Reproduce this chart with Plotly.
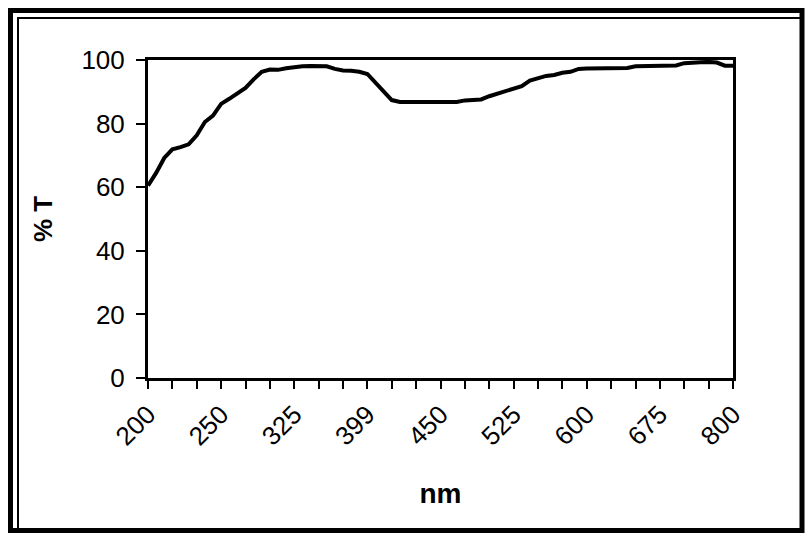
import plotly.graph_objects as go

# Wavelength sample points (nm), one category per reading
wavelengths = [
    200, 206, 211, 217, 222, 228, 233, 239, 244,
    250, 258, 267, 275, 283, 292, 300, 308, 317,
    325, 333, 341, 350, 358, 366, 374, 382, 391,
    399, 405, 410, 416, 422, 427, 433, 439, 444,
    450, 458, 467, 475, 483, 492, 500, 508, 517,
    525, 533, 542, 550, 558, 567, 575, 583, 592,
    600, 608, 617, 625, 633, 642, 650, 658, 667,
    675, 689, 703, 717, 731, 744, 758, 772, 786,
    800,
]

# Transmittance (%T) at each wavelength
transmittance = [
    60.5, 64.5, 69.2, 71.9, 72.6, 73.5, 76.3, 80.5, 82.5,
    86.2, 87.8, 89.4, 91.2, 93.9, 96.3, 97.0, 96.9, 97.4,
    97.8, 98.0, 98.1, 98.1, 98.0, 97.2, 96.7, 96.6, 96.3,
    95.6, 92.8, 90.2, 87.4, 86.8, 86.8, 86.8, 86.8, 86.8,
    86.8, 86.8, 86.8, 87.3, 87.5, 87.6, 88.6, 89.4, 90.5,
    91.3, 91.8, 93.5, 94.2, 95.0, 95.3, 96.0, 96.3, 97.2,
    97.3, 97.3, 97.3, 97.4, 97.4, 97.5, 98.0, 98.1, 98.1,
    98.2, 98.2, 98.3, 99.0, 99.3, 99.3, 99.4, 99.2, 98.2,
    98.2,
]

# Labelled wavelengths on the category axis
labelled = [200, 250, 325, 399, 450, 525, 600, 675, 800]
tick_every = 3

y_ticks = [0, 20, 40, 60, 80, 100]

categories = [str(w) for w in wavelengths]
tickvals = categories[::tick_every]
ticktext = [c if int(c) in labelled else "" for c in tickvals]

W, H = 806, 535
L, R, T, B = 148, 733, 60, 378  # plot-area edges in pixels

FONT = "Liberation Sans, Arial, sans-serif"

fig = go.Figure()
fig.add_trace(go.Scatter(
    x=categories,
    y=transmittance,
    mode="lines",
    line=dict(color="black", width=4),
    hoverinfo="skip",
))


def px_x(p):
    return (p - L) / (R - L)


def px_y(p):
    return (B - p) / (B - T)


# Page frame: thick outer line and thin inner line on the top/left,
# both closing on a shared line at the right and bottom
frames = [
    (10.5, 10.5, 802, 530.5, 5),
    (18, 18, 802, 530.5, 2),
]
shapes = []
for x0, y0, x1, y1, w in frames:
    shapes.append(dict(
        type="rect", xref="paper", yref="paper",
        x0=px_x(x0), x1=px_x(x1), y0=px_y(y0), y1=px_y(y1),
        line=dict(color="black", width=w), fillcolor="rgba(0,0,0,0)",
        layer="above",
    ))

fig.update_layout(
    width=W, height=H,
    margin=dict(l=L, r=W - R, t=T, b=H - B, autoexpand=False),
    paper_bgcolor="white",
    plot_bgcolor="white",
    showlegend=False,
    font=dict(family=FONT, color="black", size=26),
    shapes=shapes,
)

fig.update_xaxes(
    type="category",
    range=[0, len(categories) - 1],
    tickmode="array",
    tickvals=tickvals,
    ticktext=ticktext,
    tickangle=-45,
    ticks="outside",
    ticklen=8,
    tickwidth=2,
    tickcolor="black",
    showline=True,
    linecolor="black",
    linewidth=3,
    mirror=True,
    showgrid=False,
    zeroline=False,
    tickfont=dict(size=26),
    title=dict(text="<b>nm</b>", font=dict(size=28), standoff=34),
    automargin=False,
)

fig.update_yaxes(
    range=[0, 100],
    tickmode="array",
    tickvals=y_ticks,
    ticks="outside",
    ticklen=9,
    tickwidth=2,
    tickcolor="black",
    showline=True,
    linecolor="black",
    linewidth=3,
    mirror=True,
    showgrid=False,
    zeroline=False,
    tickfont=dict(size=26),
    ticklabelstandoff=6,
    title=dict(text="<b>% T</b>", font=dict(size=26), standoff=22),
    automargin=False,
)

fig.write_html("out.html")
